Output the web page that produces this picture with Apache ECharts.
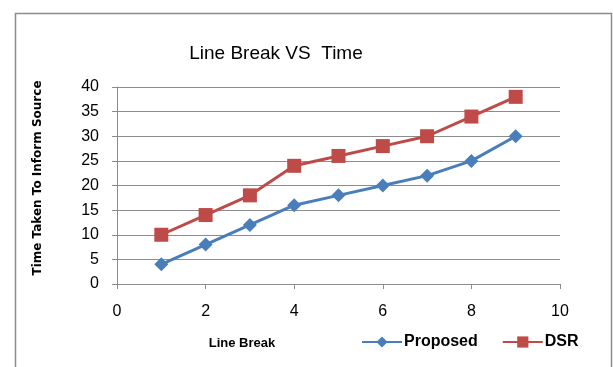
<!DOCTYPE html>
<html><head><meta charset="utf-8">
<script src="https://cdn.jsdelivr.net/npm/echarts@6/dist/echarts.min.js"></script>
<style>
html,body{margin:0;padding:0;background:#fff;}
#c{width:613px;height:367px;}
</style></head><body>
<div id="c"></div>
<script>
const xValues = [1, 2, 3, 4, 5, 6, 7, 8, 9];
const proposed = [4, 8, 12, 16, 18, 20, 22, 25, 30];
const dsr = [10, 14, 18, 24, 26, 28, 30, 34, 38];
const seriesNames = ['Proposed', 'DSR'];
const titleText = 'Line Break VS  Time';
const xName = 'Line Break';
const yName = 'Time Taken To Inform Source';

const FONT = "'Liberation Sans', sans-serif";
const chart = echarts.init(document.getElementById('c'), null, {renderer: 'canvas'});
const pairs = (ys) => xValues.map((x, i) => [x, ys[i]]);
chart.setOption({
  animation: false,
  textStyle: {fontFamily: FONT},
  title: {
    text: titleText, left: 271, top: 39, textAlign: 'center',
    textStyle: {fontFamily: FONT, fontSize: 19, fontWeight: 'normal', color: '#000'}
  },
  graphic: [
    {type: 'polyline', shape: {points: [[15.5, 367], [15.5, 13.5], [611.5, 13.5], [611.5, 367]]},
     style: {stroke: '#8c8c8c', lineWidth: 1.5, fill: null}},
    {type: 'text', x: 242, y: 343,
     style: {text: xName, font: "bold 13px " + FONT, fill: '#000', align: 'center', verticalAlign: 'middle'}},
    {type: 'text', rotation: Math.PI / 2, x: 38, y: 178,
     style: {text: yName, font: "bold 12px 'DejaVu Sans', sans-serif", fill: '#000', align: 'center', verticalAlign: 'middle'}}
  ],
  legend: {
    data: seriesNames, left: 356, top: 329, itemWidth: 40, itemHeight: 14, itemGap: 24,
    textStyle: {fontFamily: FONT, fontSize: 16, fontWeight: 'bold', color: '#000', padding: [0, 0, 0, -3]}
  },
  grid: {left: 117, right: 53, top: 87, bottom: 83, containLabel: false},
  xAxis: {
    type: 'value', min: 0, max: 10, interval: 2,
    axisLine: {show: true, lineStyle: {color: '#8c8c8c', width: 1}},
    axisTick: {show: true, length: 5, lineStyle: {color: '#8c8c8c'}},
    axisLabel: {fontFamily: FONT, fontSize: 16, color: '#000', margin: 20},
    splitLine: {show: false}
  },
  yAxis: {
    type: 'value', min: 0, max: 40, interval: 5,
    axisLine: {show: true, lineStyle: {color: '#8c8c8c', width: 1}},
    axisTick: {show: true, length: 5, lineStyle: {color: '#8c8c8c'}},
    axisLabel: {fontFamily: FONT, fontSize: 16, color: '#000', margin: 18},
    splitLine: {show: true, lineStyle: {color: '#8c8c8c', width: 1}}
  },
  series: [
    {name: seriesNames[0], type: 'line', data: pairs(proposed),
     symbol: 'diamond', symbolSize: 14,
     lineStyle: {color: '#4a7ebb', width: 3}, itemStyle: {color: '#4a7ebb'}},
    {name: seriesNames[1], type: 'line', data: pairs(dsr),
     symbol: 'rect', symbolSize: 14,
     lineStyle: {color: '#be4b48', width: 3}, itemStyle: {color: '#be4b48'}}
  ]
});
</script>
</body></html>
